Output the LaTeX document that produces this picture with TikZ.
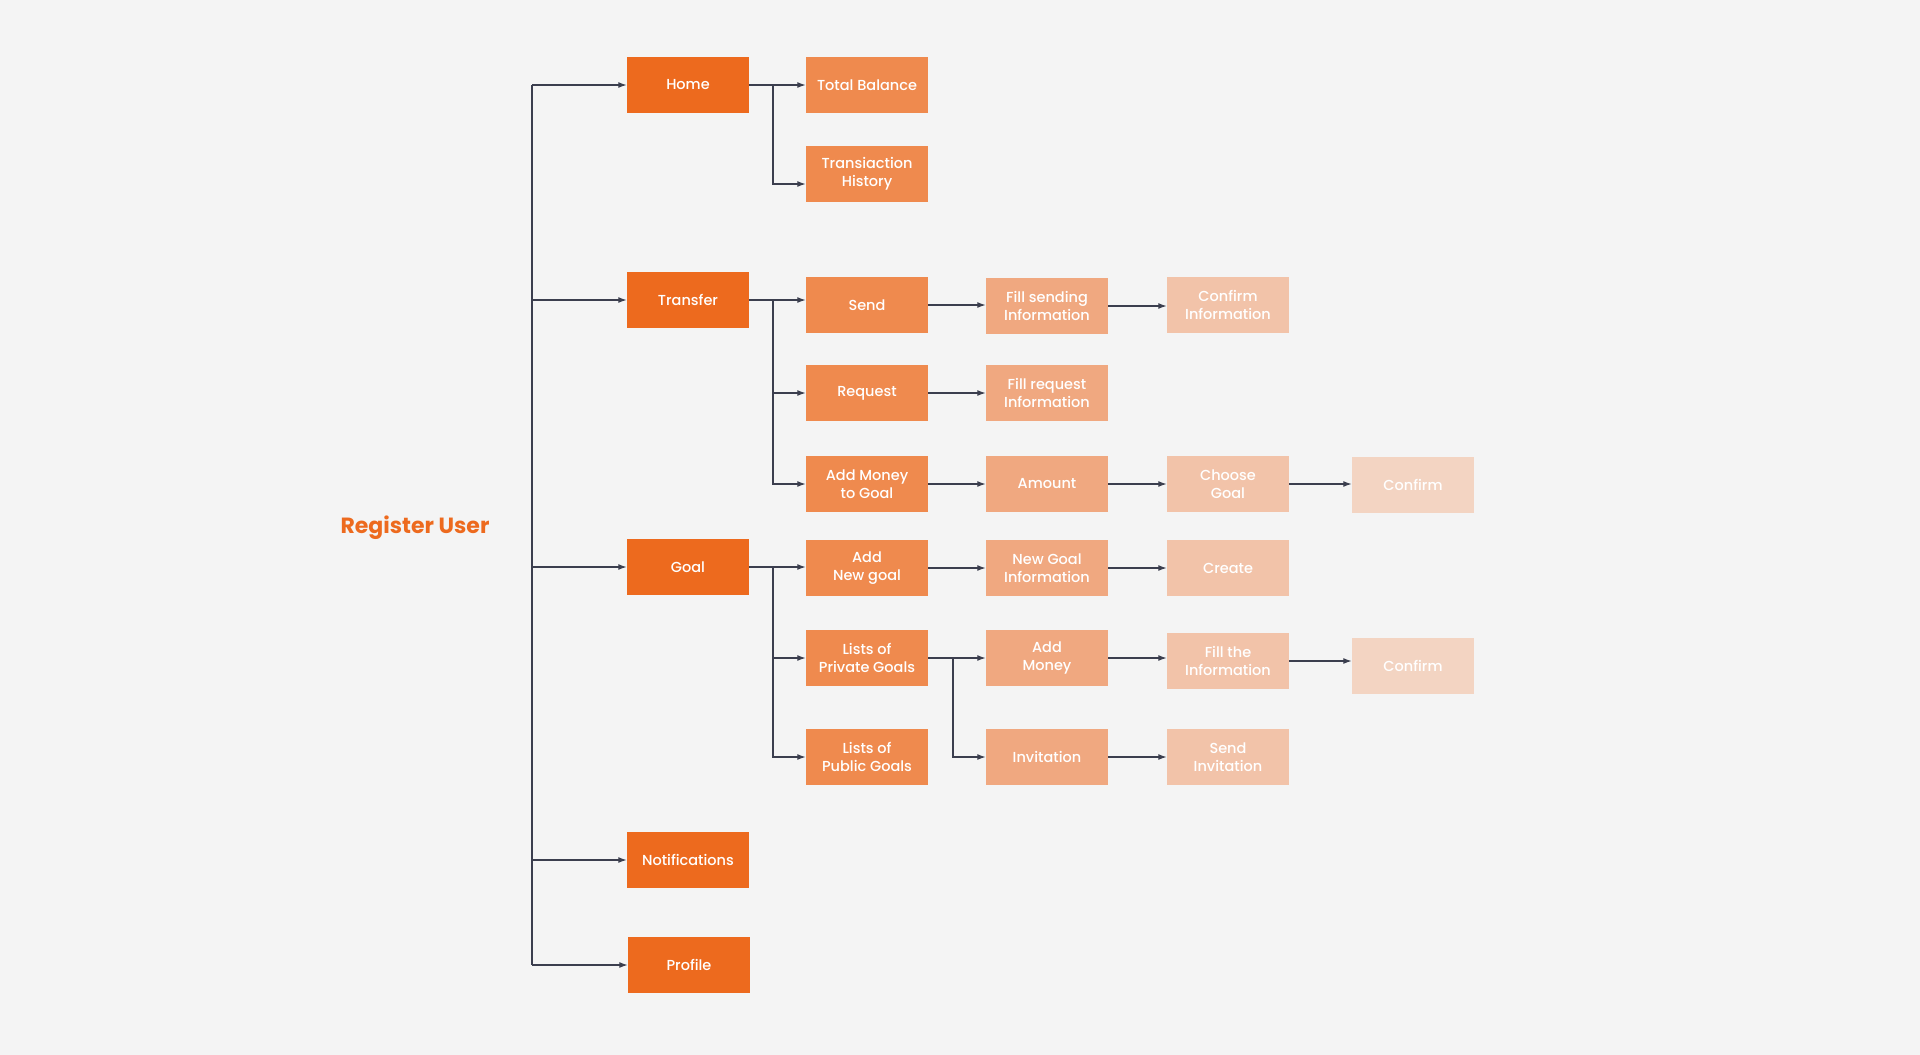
\documentclass[tikz,border=0pt]{standalone}
\usepackage{fontspec}
\setmainfont{Poppins}
\newfontfamily\medfont{Poppins Medium}
\usetikzlibrary{arrows.meta}
\definecolor{bggray}{HTML}{F4F4F4}
\definecolor{lvlA}{HTML}{ED6A1E}
\definecolor{lvlB}{HTML}{EF8A4E}
\definecolor{lvlC}{HTML}{F0A880}
\definecolor{lvlD}{HTML}{F2C3A9}
\definecolor{lvlE}{HTML}{F3D4C2}
\definecolor{linegray}{HTML}{3B3E4E}

\begin{document}
\begin{tikzpicture}[x=1pt,y=-1pt,
                    box/.style={rectangle, minimum width=122pt, minimum height=56pt,
                                inner sep=0pt, align=center, text=white,
                                font=\medfont\fontsize{14.5}{18.5}\selectfont},
                    lvla/.style={box, fill=lvlA},
                    lvlb/.style={box, fill=lvlB},
                    lvlc/.style={box, fill=lvlC},
                    lvld/.style={box, fill=lvlD},
                    lvle/.style={box, fill=lvlE},
                    wire/.style={draw=linegray, line width=1.3pt},
                    link/.style={wire, -{Latex[length=8.5pt,width=6pt]}}]
  \fill[bggray] (0,0) rectangle (1920,1055);
  \useasboundingbox (0,0) rectangle (1920,1055);

  \node[text=lvlA, font=\bfseries\fontsize{22}{26}\selectfont] (reguser) at (415,528) {Register User};

  % main menu
  \node[lvla] (home)     at (688,85)  {Home};
  \node[lvla] (transfer) at (688,300) {Transfer};
  \node[lvla] (goal)     at (688,567) {Goal};
  \node[lvla] (notif)    at (688,860) {Notifications};
  \node[lvla] (profile)  at (689,965) {Profile};

  % home
  \node[lvlb] (tbal)  at (867,85)  {Total Balance};
  \node[lvlb] (thist) at (867,174) {Transiaction\\History};

  % transfer
  \node[lvlb] (send)       at (867,305)  {Send};
  \node[lvlc] (fillsend)   at (1047,306) {Fill sending\\Information};
  \node[lvld] (confinfo)   at (1228,305) {Confirm\\Information};
  \node[lvlb] (request)    at (867,393)  {Request};
  \node[lvlc] (fillreq)    at (1047,393) {Fill request\\Information};
  \node[lvlb] (addmoney)   at (867,484)  {Add Money\\to Goal};
  \node[lvlc] (amount)     at (1047,484) {Amount};
  \node[lvld] (choosegoal) at (1228,484) {Choose\\Goal};
  \node[lvle] (confgoal)   at (1413,485) {Confirm};

  % goal
  \node[lvlb] (newgoal)     at (867,568)  {Add\\New goal};
  \node[lvlc] (goalinfo)    at (1047,568) {New Goal\\Information};
  \node[lvld] (create)      at (1228,568) {Create};
  \node[lvlb] (private)     at (867,658)  {Lists of\\Private Goals};
  \node[lvlc] (addprivate)  at (1047,658) {Add\\Money};
  \node[lvld] (fillinfo)    at (1228,661) {Fill the\\Information};
  \node[lvle] (confprivate) at (1413,666) {Confirm};
  \node[lvlb] (public)      at (867,757)  {Lists of\\Public Goals};
  \node[lvlc] (invitation)  at (1047,757) {Invitation};
  \node[lvld] (sendinv)     at (1228,757) {Send\\Invitation};

  % trunk and branches
  \coordinate (trunk) at (532,0);
  \coordinate (mj) at (773,0);
  \coordinate (pj) at (953,0);

  \draw[wire] (trunk |- home.west) -- (trunk |- profile.west);
  \foreach \m in {home, transfer, goal, notif, profile}
    \draw[link] (trunk |- \m.west) -- (\m.west);

  \draw[link] (home.east) -- (home.east -| tbal.west);
  \draw[link] (mj |- home.east) |- ([yshift=-10pt]thist.west);

  \draw[link] (transfer.east) -- (transfer.east -| send.west);
  \draw[link] (mj |- transfer.east) |- (request.west);
  \draw[link] (mj |- transfer.east) |- (addmoney.west);

  \draw[link] (goal.east) -- (goal.east -| newgoal.west);
  \draw[link] (mj |- goal.east) |- (private.west);
  \draw[link] (mj |- goal.east) |- (public.west);

  \draw[link] (private.east) -- (private.east -| addprivate.west);
  \draw[link] (pj |- private.east) |- (invitation.west);

  \foreach \a/\b in {send/fillsend, fillsend/confinfo, request/fillreq,
                     addmoney/amount, amount/choosegoal, choosegoal/confgoal,
                     newgoal/goalinfo, goalinfo/create, addprivate/fillinfo,
                     fillinfo/confprivate, invitation/sendinv}
    \draw[link] (\a.east) -- (\a.east -| \b.west);
\end{tikzpicture}
\end{document}
